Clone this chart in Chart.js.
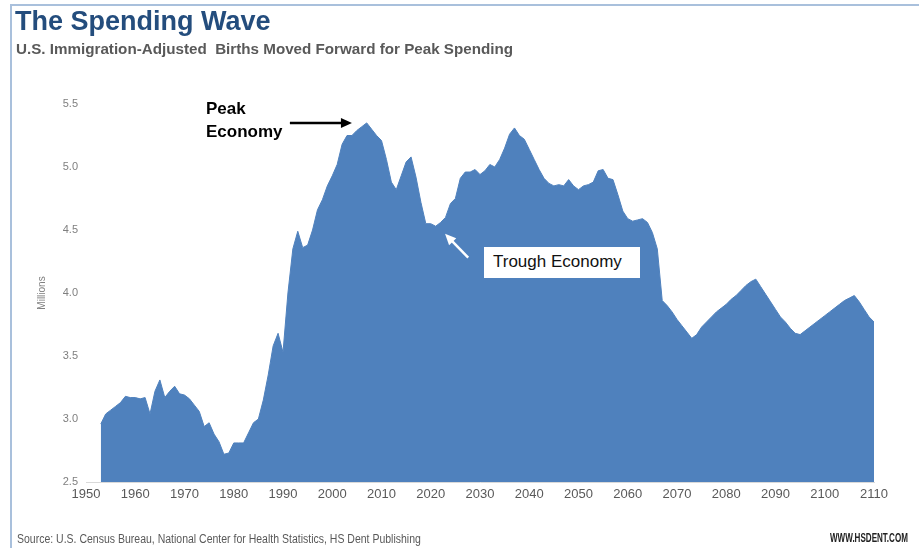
<!DOCTYPE html>
<html>
<head>
<meta charset="utf-8">
<script src="https://cdn.jsdelivr.net/npm/chart.js@4"></script>
<style>
  html, body { margin:0; padding:0; background:#fff; }
  #wrap { position:relative; width:919px; height:548px; overflow:hidden; font-family: Arial, "Liberation Sans", sans-serif; }
  #frame { position:absolute; left:10px; top:4px; width:930px; height:560px; border-top:2px solid #a9c0dc; border-left:2px solid #a9c0dc; }
  canvas { position:absolute; left:0; top:0; }
  .t { position:absolute; white-space:nowrap; }
  #title { left:15px; top:6px; font-size:27px; font-weight:bold; color:#244d7d; }
  #sub { left:16px; top:40px; font-size:15.2px; font-weight:bold; color:#595959; }
  #src { left:17px; top:532px; font-size:12.5px; color:#595959; transform:scaleX(0.84); transform-origin:0 0; }
  #web { left:830px; top:530px; font-size:13px; font-weight:bold; color:#222; transform:scaleX(0.62); transform-origin:0 0; }
  #peak { left:206px; top:97px; font-size:17px; font-weight:bold; color:#000; line-height:23px; }
  #trough { left:484px; top:247px; width:156px; height:31px; background:#fff; }
  #trough span { position:absolute; left:9px; top:5px; font-size:17px; color:#111; }
</style>
</head>
<body>
<div id="wrap">
  <div id="frame"></div>
  <canvas id="c" width="919" height="548"></canvas>
  <div class="t" id="title">The Spending Wave</div>
  <div class="t" id="sub">U.S. Immigration-Adjusted&nbsp; Births Moved Forward for Peak Spending</div>
  <div class="t" id="peak">Peak<br>Economy</div>
  <div class="t" id="trough"><span>Trough Economy</span></div>
  <div class="t" id="src">Source: U.S. Census Bureau, National Center for Health Statistics, HS Dent Publishing</div>
  <div class="t" id="web">WWW.HSDENT.COM</div>
</div>
<script>
const years = [
  1953,1954,1955,1956,1957,1958,1959,
  1960,1961,1962,1963,1964,1965,1966,1967,1968,1969,
  1970,1971,1972,1973,1974,1975,1976,1977,1978,1979,
  1980,1981,1982,1983,1984,1985,1986,1987,1988,1989,
  1990,1991,1992,1993,1994,1995,1996,1997,1998,1999,
  2000,2001,2002,2003,2004,2005,2006,2007,2008,2009,
  2010,2011,2012,2013,2014,2015,2016,2017,2018,2019,
  2020,2021,2022,2023,2024,2025,2026,2027,2028,2029,
  2030,2031,2032,2033,2034,2035,2036,2037,2038,2039,
  2040,2041,2042,2043,2044,2045,2046,2047,2048,2049,
  2050,2051,2052,2053,2054,2055,2056,2057,2058,2059,
  2060,2061,2062,2063,2064,2065,2066,2067,2068,2069,
  2070,2071,2072,2073,2074,2075,2076,2077,2078,2079,
  2080,2081,2082,2083,2084,2085,2086,2087,2088,2089,
  2090,2091,2092,2093,2094,2095,2096,2097,2098,2099,
  2100,2101,2102,2103,2104,2105,2106,2107,2108,2109,2110
];
const birthsMillions = [
  2.96,3.04,3.07,3.10,3.13,3.18,3.17,
  3.17,3.16,3.17,3.04,3.22,3.31,3.17,3.22,3.26,3.20,
  3.19,3.16,3.11,3.06,2.94,2.97,2.88,2.82,2.72,2.73,
  2.81,2.81,2.81,2.89,2.97,3.00,3.15,3.35,3.58,3.68,
  3.53,4.00,4.35,4.49,4.36,4.38,4.50,4.66,4.74,4.85,
  4.93,5.02,5.18,5.25,5.25,5.29,5.32,5.35,5.30,5.25,
  5.21,5.06,4.88,4.82,4.93,5.04,5.08,4.92,4.72,4.55,
  4.55,4.53,4.56,4.60,4.71,4.75,4.91,4.96,4.96,4.98,
  4.94,4.97,5.02,5.00,5.06,5.15,5.26,5.31,5.25,5.22,
  5.14,5.06,4.98,4.91,4.87,4.85,4.86,4.85,4.90,4.85,
  4.82,4.85,4.86,4.88,4.97,4.98,4.91,4.90,4.78,4.65,
  4.59,4.57,4.58,4.59,4.56,4.48,4.35,3.94,3.90,3.85,
  3.79,3.74,3.69,3.64,3.67,3.73,3.77,3.81,3.85,3.88,
  3.91,3.95,3.98,4.02,4.06,4.09,4.11,4.05,3.99,3.93,
  3.87,3.81,3.77,3.72,3.68,3.67,3.70,3.73,3.76,3.79,
  3.82,3.85,3.88,3.91,3.94,3.96,3.98,3.93,3.87,3.81,3.77
];
const xTickYears = [1950,1960,1970,1980,1990,2000,2010,2020,2030,2040,2050,2060,2070,2080,2090,2100,2110];
const yTickValues = [2.5,3.0,3.5,4.0,4.5,5.0,5.5];
const yAxisTitle = "Millions";
// annotation arrows in data coordinates: [fromYear, fromValue, toYear, toValue]
const peakArrow = [1991.4, 5.35, 2004.0, 5.35];
const troughArrow = [2027.6, 4.28, 2022.9, 4.47];

const arrowPlugin = {
  id: 'arrows',
  afterDatasetsDraw(chart) {
    const {ctx, scales:{x, y}} = chart;
    function arrow(a, color) {
      const x1 = x.getPixelForValue(a[0]), y1 = y.getPixelForValue(a[1]);
      const x2 = x.getPixelForValue(a[2]), y2 = y.getPixelForValue(a[3]);
      const ang = Math.atan2(y2 - y1, x2 - x1);
      const hl = 11, hw = 5;
      ctx.save();
      ctx.strokeStyle = color; ctx.fillStyle = color; ctx.lineWidth = 2.5;
      ctx.beginPath();
      ctx.moveTo(x1, y1);
      ctx.lineTo(x2 - Math.cos(ang) * hl * 0.8, y2 - Math.sin(ang) * hl * 0.8);
      ctx.stroke();
      ctx.beginPath();
      ctx.moveTo(x2, y2);
      ctx.lineTo(x2 - Math.cos(ang) * hl - Math.sin(ang) * hw, y2 - Math.sin(ang) * hl + Math.cos(ang) * hw);
      ctx.lineTo(x2 - Math.cos(ang) * hl + Math.sin(ang) * hw, y2 - Math.sin(ang) * hl - Math.cos(ang) * hw);
      ctx.closePath();
      ctx.fill();
      ctx.restore();
    }
    arrow(peakArrow, '#000');
    arrow(troughArrow, '#fff');
  }
};

new Chart(document.getElementById('c'), {
  type: 'line',
  data: {
    datasets: [{
      data: years.map((yr, i) => ({x: yr, y: birthsMillions[i]})),
      borderColor: '#4f81bd',
      backgroundColor: '#4f81bd',
      borderWidth: 1,
      fill: 'start',
      pointRadius: 0,
      tension: 0
    }]
  },
  options: {
    responsive: false,
    animation: false,
    events: [],
    layout: { padding: { left: 32, right: 45, top: 104, bottom: 0 } },
    plugins: { legend: { display: false }, tooltip: { enabled: false }, title: { display: false } },
    scales: {
      x: {
        type: 'linear',
        min: 1950, max: 2110,
        afterBuildTicks(s) { s.ticks = xTickYears.map(v => ({value: v})); },
        afterFit(s) { s.height = 66; },
        grid: { display: false, drawTicks: false },
        border: { display: true, color: '#d9d9d9', width: 1 },
        ticks: {
          padding: 5,
          maxRotation: 0,
          autoSkip: false,
          color: '#595959',
          font: { family: 'Arial, "Liberation Sans", sans-serif', size: 13 },
          callback: v => String(v)
        }
      },
      y: {
        min: 2.5, max: 5.5,
        afterBuildTicks(s) { s.ticks = yTickValues.map(v => ({value: v})); },
        afterFit(s) { s.width = 54; },
        grid: { display: false, drawTicks: false },
        border: { display: false },
        title: { display: true, text: yAxisTitle, color: '#7f7f7f', font: { family: 'Arial, "Liberation Sans", sans-serif', size: 10 } },
        ticks: {
          padding: 8,
          color: '#7f7f7f',
          font: { family: 'Arial, "Liberation Sans", sans-serif', size: 11 },
          callback: v => Number(v).toFixed(1)
        }
      }
    }
  },
  plugins: [arrowPlugin]
});
</script>
</body>
</html>
